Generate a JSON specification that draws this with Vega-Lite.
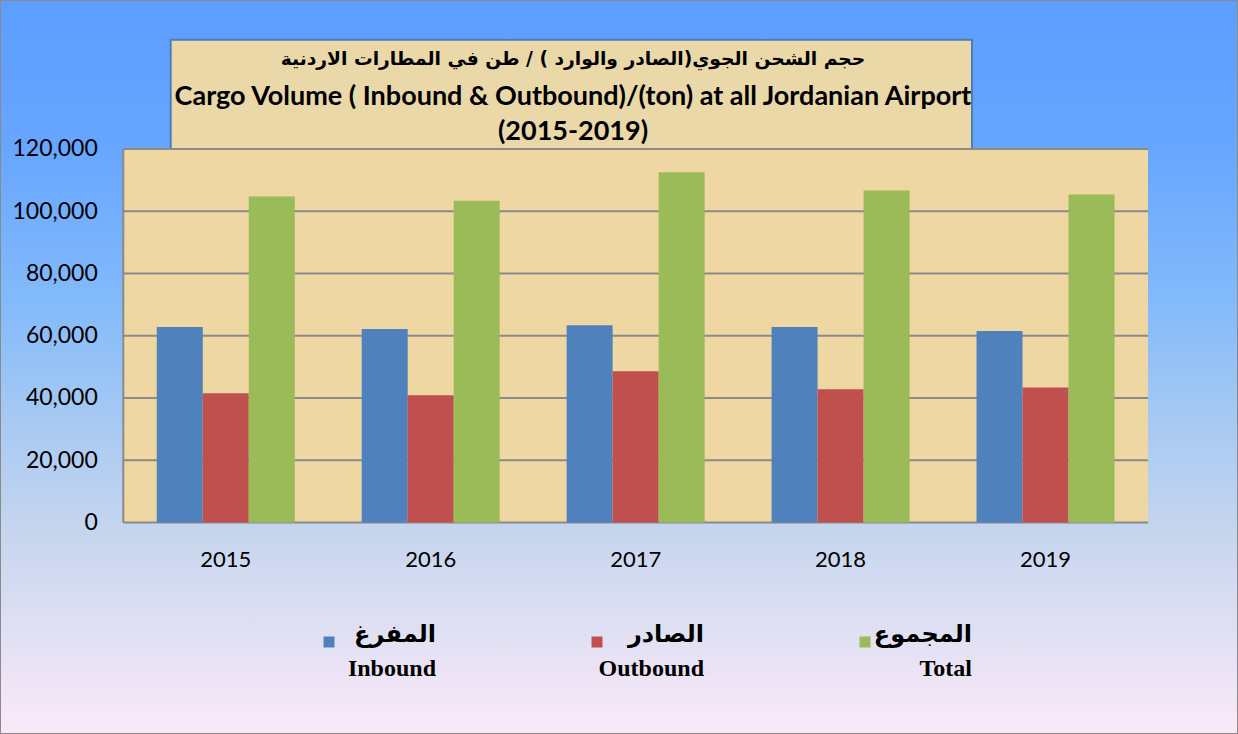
{
  "$schema": "https://vega.github.io/schema/vega-lite/v6.json",
  "width": 1238,
  "height": 734,
  "autosize": {"type": "none"},
  "padding": 0,
  "background": "#ffffff",
  "config": {
    "view": {
      "fill": {
        "gradient": "linear", "x1": 0, "y1": 0, "x2": 0, "y2": 1,
        "stops": [
          {"offset": 0, "color": "#5D9DFF"},
          {"offset": 0.2, "color": "#67A6FF"},
          {"offset": 0.42, "color": "#84BBFA"},
          {"offset": 0.55, "color": "#A2C7F4"},
          {"offset": 0.72, "color": "#C5D5EE"},
          {"offset": 0.85, "color": "#DEDFF3"},
          {"offset": 1, "color": "#FCE9F8"}
        ]
      },
      "stroke": "#8A8A8A",
      "strokeWidth": 2
    },
    "font": "Lato",
    "style": {"guide-label": {"lineHeight": 34}}
  },
  "title": {
    "text": "حجم الشحن الجوي(الصادر والوارد ) / طن في المطارات الاردنية",
    "subtitle": [
      "Cargo Volume ( Inbound & Outbound)/(ton) at all Jordanian Airport",
      "(2015-2019)"
    ],
    "anchor": "middle",
    "frame": "group",
    "orient": "top",
    "offset": -145,
    "dx": -46,
    "baseline": "top",
    "font": "DejaVu Sans",
    "fontSize": 18.7,
    "fontWeight": "bold",
    "color": "#000000",
    "subtitleFont": "Lato",
    "subtitleFontSize": 27,
    "subtitleFontWeight": "bold",
    "subtitleColor": "#000000",
    "subtitleLineHeight": 35,
    "subtitlePadding": 15
  },
  "data": {
    "values": [
      {"year": "2015", "series": "Inbound", "value": 62800},
      {"year": "2015", "series": "Outbound", "value": 41500},
      {"year": "2015", "series": "Total", "value": 104700},
      {"year": "2016", "series": "Inbound", "value": 62200},
      {"year": "2016", "series": "Outbound", "value": 40900},
      {"year": "2016", "series": "Total", "value": 103400},
      {"year": "2017", "series": "Inbound", "value": 63400},
      {"year": "2017", "series": "Outbound", "value": 48600},
      {"year": "2017", "series": "Total", "value": 112500},
      {"year": "2018", "series": "Inbound", "value": 62800},
      {"year": "2018", "series": "Outbound", "value": 42800},
      {"year": "2018", "series": "Total", "value": 106700},
      {"year": "2019", "series": "Inbound", "value": 61500},
      {"year": "2019", "series": "Outbound", "value": 43400},
      {"year": "2019", "series": "Total", "value": 105400}
    ]
  },
  "resolve": {"scale": {"x": "independent"}},
  "layer": [
    {
      "layer": [
        {
          "data": {"values": [{}]},
          "mark": {"type": "rect", "fill": "#EED7A3"},
          "encoding": {
            "x": {"datum": 2014.5, "type": "quantitative", "scale": {"domain": [2013.8984, 2019.9391], "nice": false, "zero": false}, "axis": null},
            "x2": {"datum": 2019.5},
            "y": {
              "datum": 0, "type": "quantitative",
              "scale": {"domain": [-67952, 167871], "nice": false, "zero": false},
              "axis": {
                "values": [0, 20000, 40000, 60000, 80000, 100000, 120000],
                "format": ",.0f",
                "offset": -123.3,
                "domain": false,
                "ticks": false,
                "tickSize": 0,
                "grid": false,
                "labelPadding": 26,
                "labelFont": "Lato",
                "labelFontSize": 23,
                "labelColor": "#000000",
                "title": null
              }
            },
            "y2": {"datum": 120000}
          }
        },
        {
          "data": {"values": [{}]},
          "mark": {"type": "rect", "fill": "#EAD8A9", "stroke": "#4A7EBB", "strokeWidth": 2},
          "encoding": {
            "x": {"datum": 2014.7313, "type": "quantitative"},
            "x2": {"datum": 2018.6412},
            "y": {"datum": 120000, "type": "quantitative"},
            "y2": {"datum": 155117}
          }
        },
        {
          "data": {"values": [{"tick": 0}, {"tick": 20000}, {"tick": 40000}, {"tick": 60000}, {"tick": 80000}, {"tick": 100000}, {"tick": 120000}]},
          "mark": {"type": "rule", "color": "#8A8A8A", "strokeWidth": 2},
          "encoding": {
            "x": {"datum": 2014.5, "type": "quantitative"},
            "x2": {"datum": 2019.5},
            "y": {"field": "tick", "type": "quantitative"}
          }
        },
        {
          "data": {"values": [{}]},
          "mark": {"type": "rule", "color": "#8A8A8A", "strokeWidth": 2},
          "encoding": {
            "x": {"datum": 2014.5, "type": "quantitative"},
            "y": {"datum": 0, "type": "quantitative"},
            "y2": {"datum": 120000}
          }
        }
      ]
    },
    {
      "mark": {"type": "bar"},
      "encoding": {
        "x": {
          "field": "year", "type": "ordinal",
          "scale": {"paddingInner": 0.3266, "paddingOuter": 0.6837, "align": 0.5594},
          "axis": {
            "orient": "bottom",
            "offset": -211.5,
            "domain": false,
            "ticks": false,
            "tickSize": 0,
            "grid": false,
            "labelAngle": 0,
            "labelPadding": 27,
            "labelFont": "Lato",
            "labelFontSize": 22,
            "labelColor": "#000000",
            "title": null
          }
        },
        "xOffset": {"field": "series", "type": "nominal", "scale": {"paddingInner": 0, "paddingOuter": 0}},
        "y": {"field": "value", "type": "quantitative", "scale": {"domain": [-67952, 167871], "nice": false, "zero": false}},
        "color": {
          "field": "series", "type": "nominal",
          "scale": {"domain": ["Inbound", "Outbound", "Total"], "range": ["#4F81BD", "#C0504D", "#9BBB59"]},
          "legend": {
            "orient": "none",
            "legendX": 317,
            "legendY": 630,
            "padding": 0,
            "direction": "horizontal",
            "title": null,
            "symbolType": "square",
            "symbolSize": 121,
            "symbolStrokeWidth": 0,
            "labelFont": "Liberation Serif, DejaVu Sans",
            "labelFontSize": 24,
            "labelFontWeight": "bold",
            "labelColor": "#000000",
            "labelAlign": "right",
            "labelBaseline": "alphabetic",
            "labelOffset": 95,
            "labelLimit": 0,
            "columnPadding": 149,
            "labelExpr": "datum.label == 'Inbound' ? ['المفرغ', 'Inbound'] : datum.label == 'Outbound' ? ['الصادر', 'Outbound'] : ['المجموع', 'Total']"
          }
        }
      }
    }
  ]
}
